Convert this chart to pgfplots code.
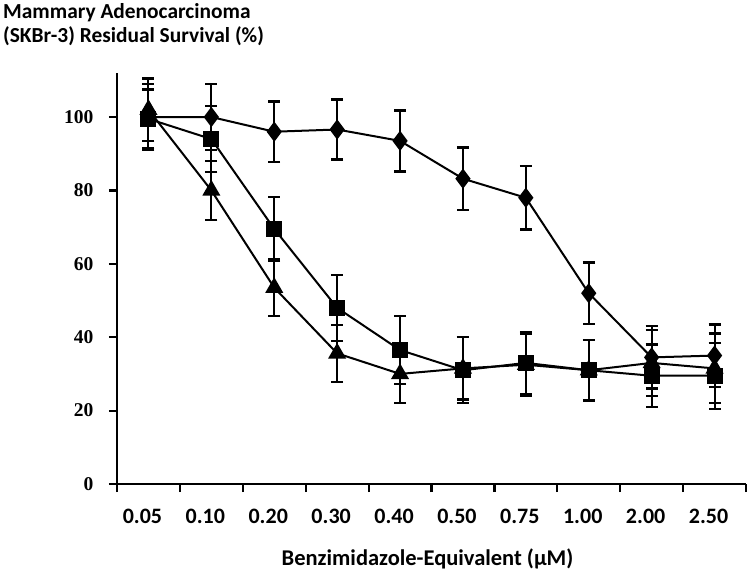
\documentclass[border=0pt]{standalone}
\usepackage{pgfplots}
\pgfplotsset{compat=1.18}
\usepackage{fontspec}
\setmainfont{Liberation Serif}
\newfontfamily\calib{Carlito}
\pgfplotstableread{
x d de s se t te
0 100 9 99.5 8 102 8.5
1 100 9 94 9 80 8
2 96 8.2 69.5 8.7 53.5 7.8
3 96.6 8.2 48 9 35.6 7.8
4 93.5 8.3 36.5 9.2 30 8
5 83.2 8.5 31 9 31.5 8.5
6 78 8.6 33 8.5 32.5 8.5
7 52 8.4 31 8.2 31 8.2
8 34.5 8.5 29.5 8.5 33 9
9 35 8.5 29.5 9 31.5 9.5
}\data
\begin{document}
\begin{tikzpicture}[x=1pt,y=1pt]
\useasboundingbox (-117,-103) rectangle (633,484);
\begin{axis}[
  at={(0,0)}, anchor=south west,
  scale only axis, width=629pt, height=411pt,
  xmin=-0.5, xmax=9.5, ymin=0, ymax=112,
  axis x line*=bottom, axis y line*=left,
  axis line style={line width=2.8pt, -},
  tick align=outside,
  major tick length=8pt,
  tick style={line width=2.2pt, black},
  xtick={-0.5,0.5,...,9.5}, xticklabels={},
  extra x ticks={0,...,9},
  extra x tick labels={0.05,0.10,0.20,0.30,0.40,0.50,0.75,1.00,2.00,2.50},
  extra x tick style={major tick length=0pt, tick style={draw=none}},
  xticklabel style={font=\calib\bfseries\fontsize{22}{22}\selectfont, yshift=-22pt, xshift=-6pt},
  ytick={0,20,...,100},
  /pgf/number format/assume math mode=true,
  yticklabel style={font=\bfseries\fontsize{19.5}{19.5}\selectfont, xshift=-12pt},
  every axis plot/.append style={black, line width=2pt,
    error bars/y dir=both, error bars/y explicit,
    error bars/error bar style={line width=2pt},
    error bars/error mark options={rotate=90, mark size=6pt, line width=2.4pt}},
  clip=false,
]
\addplot[mark=triangle*, mark size=8.5pt] table[x=x, y=t, y error=te] {\data};
\addplot[mark=square*, mark size=7pt] table[x=x, y=s, y error=se] {\data};
\addplot[mark=diamond*, mark size=8.5pt] table[x=x, y=d, y error=de] {\data};
\end{axis}
\node[anchor=north west, align=left, font=\calib\bfseries\fontsize{21.4}{24}\selectfont, inner sep=0pt] at (-114,481) {Mammary Adenocarcinoma\\(SKBr-3) Residual Survival (\%)};
\node[font=\calib\bfseries\fontsize{22.5}{22.5}\selectfont] at (310.5,-75) {Benzimidazole-Equivalent (µM)};
\end{tikzpicture}
\end{document}
